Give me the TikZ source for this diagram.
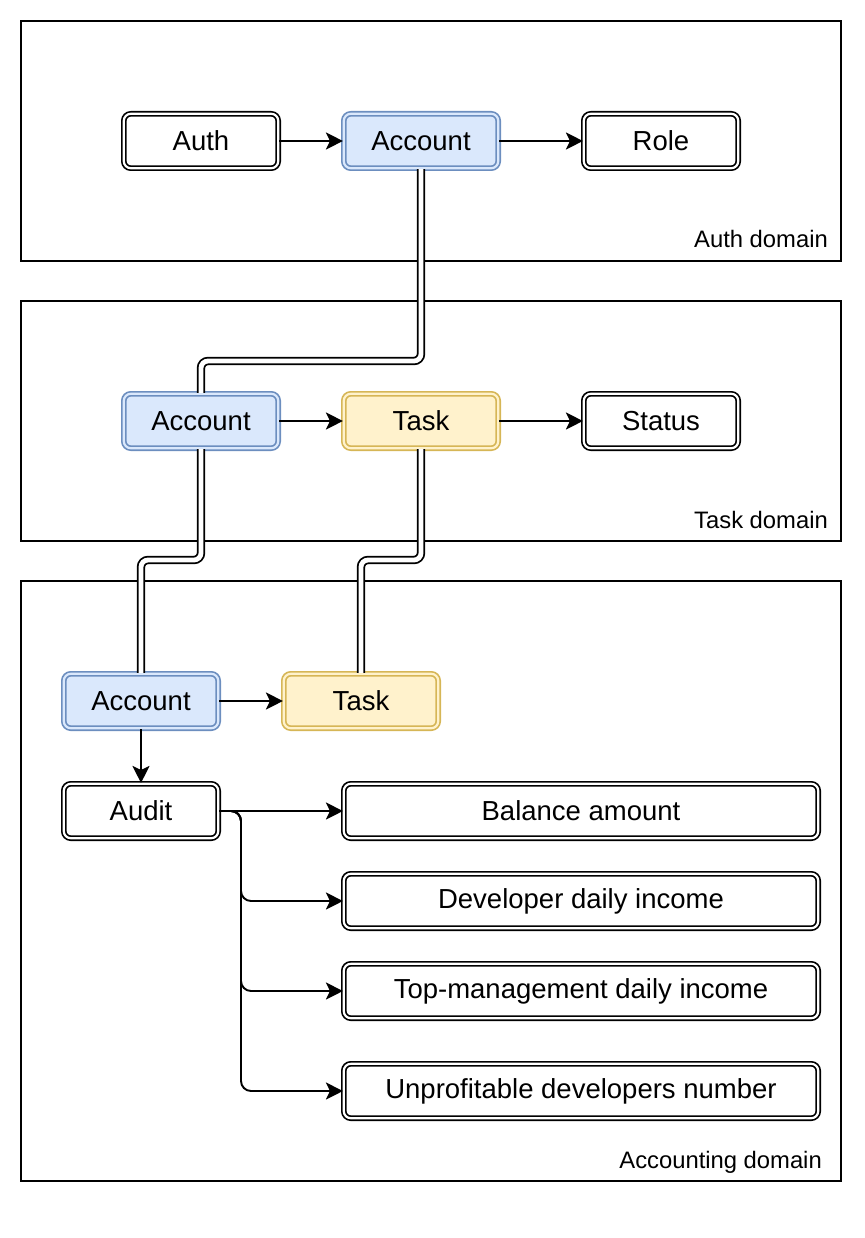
\documentclass[tikz,border=0pt]{standalone}
\usepackage{fontspec}
\setmainfont{Liberation Sans}
\usetikzlibrary{arrows.meta}
\definecolor{bfill}{HTML}{DAE8FC}
\definecolor{bline}{HTML}{6C8EBF}
\definecolor{yfill}{HTML}{FFF2CC}
\definecolor{yline}{HTML}{D6B656}
\begin{document}
\begin{tikzpicture}[x=1pt,y=-1pt,
  box/.style={rectangle, rounded corners=7pt, draw=black, double=white, double distance=2.2pt, line width=1.7pt, minimum width=154.4pt, minimum height=54.4pt, inner sep=0pt, font=\fontsize{27.5}{33}\selectfont},
  bluebox/.style={box, draw=bline, double=bfill, fill=bfill},
  yellowbox/.style={box, draw=yline, double=yfill, fill=yfill},
  widebox/.style={box, minimum width=474.4pt},
  domainbox/.style={draw, line width=1.6pt, rectangle, inner sep=0pt},
  domlabel/.style={anchor=base east, inner sep=0pt, font=\fontsize{23.8}{28}\selectfont},
  arr/.style={line width=1.9pt, -{Stealth[length=17pt,width=17pt,inset=4pt]}},
  link/.style={draw=black, double=white, double distance=4.8pt, line width=1.8pt, rounded corners=7pt}
]
\useasboundingbox (0,0) rectangle (864,1238);

% domains
\node[domainbox, minimum width=820pt, minimum height=240pt] (dauth) at (431,141) {};
\node[domainbox, minimum width=820pt, minimum height=240pt] (dtask) at (431,421) {};
\node[domainbox, minimum width=820pt, minimum height=600pt] (dacc) at (431,881) {};
\node[domlabel] (lauth) at (828,248) {Auth domain};
\node[domlabel] (ltask) at (828,528) {Task domain};
\node[domlabel] (lacc) at (822,1168) {Accounting domain};

% auth domain
\node[box] (auth) at (201,141) {Auth};
\node[bluebox] (acc1) at (421,141) {Account};
\node[box] (role) at (661,141) {Role};

% task domain
\node[bluebox] (acc2) at (201,421) {Account};
\node[yellowbox] (task2) at (421,421) {Task};
\node[box] (status) at (661,421) {Status};

% accounting domain
\node[bluebox] (acc3) at (141,701) {Account};
\node[yellowbox] (task3) at (361,701) {Task};
\node[box] (audit) at (141,811) {Audit};
\node[widebox] (bal) at (581,811) {Balance amount};
\node[widebox] (dev) at (581,901) {Developer daily income};
\node[widebox] (top) at (581,991) {Top-management daily income};
\node[widebox] (unp) at (581,1091) {Unprofitable developers number};

% arrows
\draw[arr] (auth) -- (acc1);
\draw[arr] (acc1) -- (role);
\draw[arr] (acc2) -- (task2);
\draw[arr] (task2) -- (status);
\draw[arr] (acc3) -- (task3);
\draw[arr] (acc3) -- (audit);
\draw[arr] (audit.east) -- (bal.west);
\draw[arr, rounded corners=10pt] (audit.east) -- (241,811) |- (dev.west);
\draw[arr, rounded corners=10pt] (audit.east) -- (241,811) |- (top.west);
\draw[arr, rounded corners=10pt] (audit.east) -- (241,811) |- (unp.west);

% links
\draw[link] (acc1.south) |- (201,361) -- (acc2.north);
\draw[link] (acc2.south) |- (141,560) -- (acc3.north);
\draw[link] (task2.south) |- (361,560) -- (task3.north);
\end{tikzpicture}
\end{document}
